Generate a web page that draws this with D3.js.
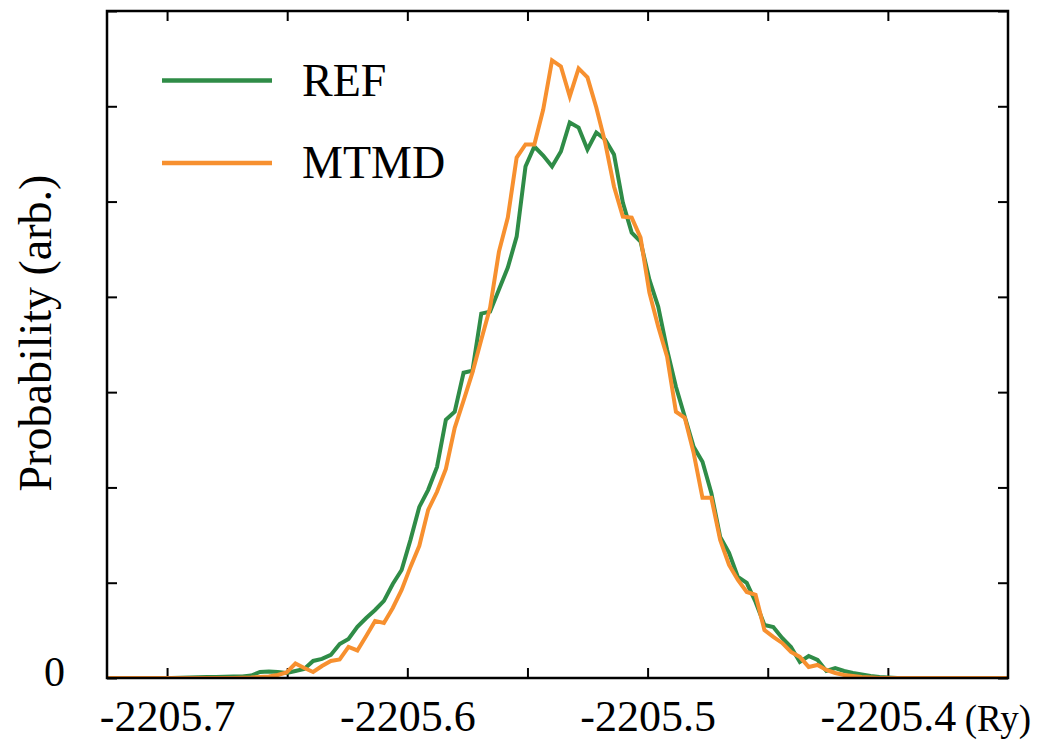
<!DOCTYPE html>
<html>
<head>
<meta charset="utf-8">
<script src="https://cdn.jsdelivr.net/npm/d3@7"></script>
<style>
  body { margin: 0; background: #fff; }
  svg { display: block; font-family: "Liberation Serif", "Times New Roman", serif; }
</style>
</head>
<body>
<svg id="chart"></svg>
<script>
// histogram bins (Ry)
const binStart = -2205.7276;
const binWidth = 0.003683;

const refValues = [
  0, 0, 0, 0, 0, 0, 0, 0, 0,
  0.002, 0.005, 0.007, 0.011, 0.011, 0.013, 0.016, 0.016, 0.026, 0.063,
  0.068, 0.063, 0.053, 0.074, 0.095, 0.179, 0.200, 0.242, 0.357, 0.410,
  0.536, 0.630, 0.714, 0.809, 0.987, 1.134, 1.450, 1.796, 1.975, 2.216,
  2.710, 2.794, 3.204, 3.225, 3.824, 3.845, 4.076, 4.307, 4.632, 5.368,
  5.578, 5.483, 5.368, 5.525, 5.830, 5.777, 5.546, 5.725, 5.651, 5.494,
  4.989, 4.674, 4.580, 4.181, 3.897, 3.445, 3.057, 2.742, 2.426, 2.269,
  1.943, 1.481, 1.313, 1.061, 0.998, 0.798, 0.557, 0.536, 0.420, 0.326,
  0.168, 0.231, 0.189, 0.074, 0.105, 0.074, 0.053, 0.037, 0.021, 0.011, 0.005,
  0, 0, 0, 0, 0, 0, 0, 0, 0, 0, 0, 0, 0, 0
];

const mtmdValues = [
  0, 0, 0, 0, 0, 0, 0, 0, 0, 0, 0, 0, 0, 0, 0, 0,
  0.003, 0.005, 0.011, 0.016, 0.032, 0.058, 0.152, 0.105, 0.063, 0.126,
  0.179, 0.194, 0.326, 0.289, 0.441, 0.599, 0.578, 0.735, 0.924, 1.166,
  1.387, 1.765, 1.954, 2.195, 2.626, 2.910, 3.204, 3.550, 3.887, 4.475,
  4.832, 5.462, 5.599, 5.599, 5.966, 6.481, 6.418, 6.103, 6.397, 6.303,
  5.987, 5.620, 5.158, 4.842, 4.832, 4.622, 4.044, 3.687, 3.372, 2.794,
  2.731, 2.363, 1.891, 1.891, 1.450, 1.187, 1.029, 0.903, 0.872, 0.504,
  0.431, 0.368, 0.273, 0.221, 0.116, 0.137, 0.084, 0.053, 0.032, 0.021, 0.011, 0.005,
  0, 0, 0, 0, 0, 0, 0, 0, 0, 0, 0, 0, 0, 0, 0, 0
];

const seriesNames = ["REF", "MTMD"];
const seriesColors = ["#2f8c47", "#f7902f"];

const xTicks = [-2205.7, -2205.65, -2205.6, -2205.55, -2205.5, -2205.45, -2205.4];
const xTickLabels = ["-2205.7", "-2205.6", "-2205.5", "-2205.4"];
const yTicks = [0, 1, 2, 3, 4, 5, 6, 7];
const yTickLabels = ["0"];
const xUnit = "(Ry)";
const yTitle = "Probability (arb.)";

const W = 1039, H = 741;
const margin = {top: 11, right: 31, bottom: 63, left: 107};
const width = W - margin.left - margin.right;
const height = H - margin.top - margin.bottom;

const svg = d3.select('#chart')
    .attr('width', W)
    .attr('height', H);
const g = svg.append('g')
    .attr('transform', 'translate(' + margin.left + ',' + margin.top + ')');

const x = d3.scaleLinear()
    .domain([-2205.725, -2205.35])
    .range([0, width]);
const y = d3.scaleLinear()
    .domain([0, 7])
    .range([height, 0]);

function xLabel(d) {
  const s = d.toFixed(1);
  return (xTickLabels.includes(s) && Math.abs(d * 10 - Math.round(d * 10)) < 1e-6) ? s : "";
}

// bottom axis with labels
const bottom = g.append('g')
    .attr('transform', 'translate(0,' + height + ')')
    .call(d3.axisBottom(x).tickValues(xTicks).tickSize(-10).tickFormat(xLabel));
bottom.selectAll('text')
    .attr('y', 53)
    .attr('dy', 0)
    .style('font-size', '44px')
    .style('fill', '#000');

// top, left, right ticks
g.append('g')
    .call(d3.axisTop(x).tickValues(xTicks).tickSize(-10).tickFormat(''));
const left = g.append('g')
    .call(d3.axisLeft(y).tickValues(yTicks).tickSize(-10)
        .tickFormat(d => yTickLabels.includes(String(d)) ? String(d) : ''));
left.selectAll('text')
    .attr('x', -42)
    .attr('dy', '0.17em')
    .style('font-size', '42px')
    .style('fill', '#000');
g.append('g')
    .attr('transform', 'translate(' + width + ',0)')
    .call(d3.axisRight(y).tickValues(yTicks).tickSize(-10).tickFormat(''));

// axes inherit the serif font of the svg
g.selectAll('g').attr('font-family', null).attr('font-size', null);
g.selectAll('.domain').remove();
g.selectAll('.tick line').attr('stroke', '#000').attr('stroke-width', 2);

// unit label after the last tick label
const lastLabel = bottom.selectAll('text').filter(d => xLabel(d) === "-2205.4");
const lastW = lastLabel.node().getComputedTextLength();
g.append('text')
    .attr('x', x(-2205.4) + lastW / 2 + 9)
    .attr('y', height + 53)
    .style('font-size', '37px')
    .text(xUnit);

// lines
g.append('clipPath').attr('id', 'plotclip')
  .append('rect').attr('width', width).attr('height', height);

const line = d3.line()
    .x((d, i) => x(binStart + i * binWidth))
    .y(d => y(d));

[refValues, mtmdValues].forEach(function(values, k) {
  g.append('path')
      .datum(values)
      .attr('clip-path', 'url(#plotclip)')
      .attr('fill', 'none')
      .attr('stroke', seriesColors[k])
      .attr('stroke-width', 4)
      .attr('stroke-linejoin', 'miter')
      .attr('d', line);
});

// frame
g.append('rect')
    .attr('width', width)
    .attr('height', height)
    .attr('fill', 'none')
    .attr('stroke', '#000')
    .attr('stroke-width', 2.5);

// legend
const legend = g.append('g').attr('transform', 'translate(55,69.5)');
seriesNames.forEach(function(name, k) {
  legend.append('line')
      .attr('x1', 0).attr('x2', 110)
      .attr('y1', k * 82.5).attr('y2', k * 82.5)
      .attr('stroke', seriesColors[k])
      .attr('stroke-width', 4.5);
  legend.append('text')
      .attr('x', 140)
      .attr('y', k * 82.5 + 15)
      .style('font-size', '46px')
      .text(name);
});

// y title
svg.append('text')
    .attr('transform', 'translate(51,333) rotate(-90)')
    .attr('text-anchor', 'middle')
    .style('font-size', '46px')
    .text(yTitle);
</script>
</body>
</html>
